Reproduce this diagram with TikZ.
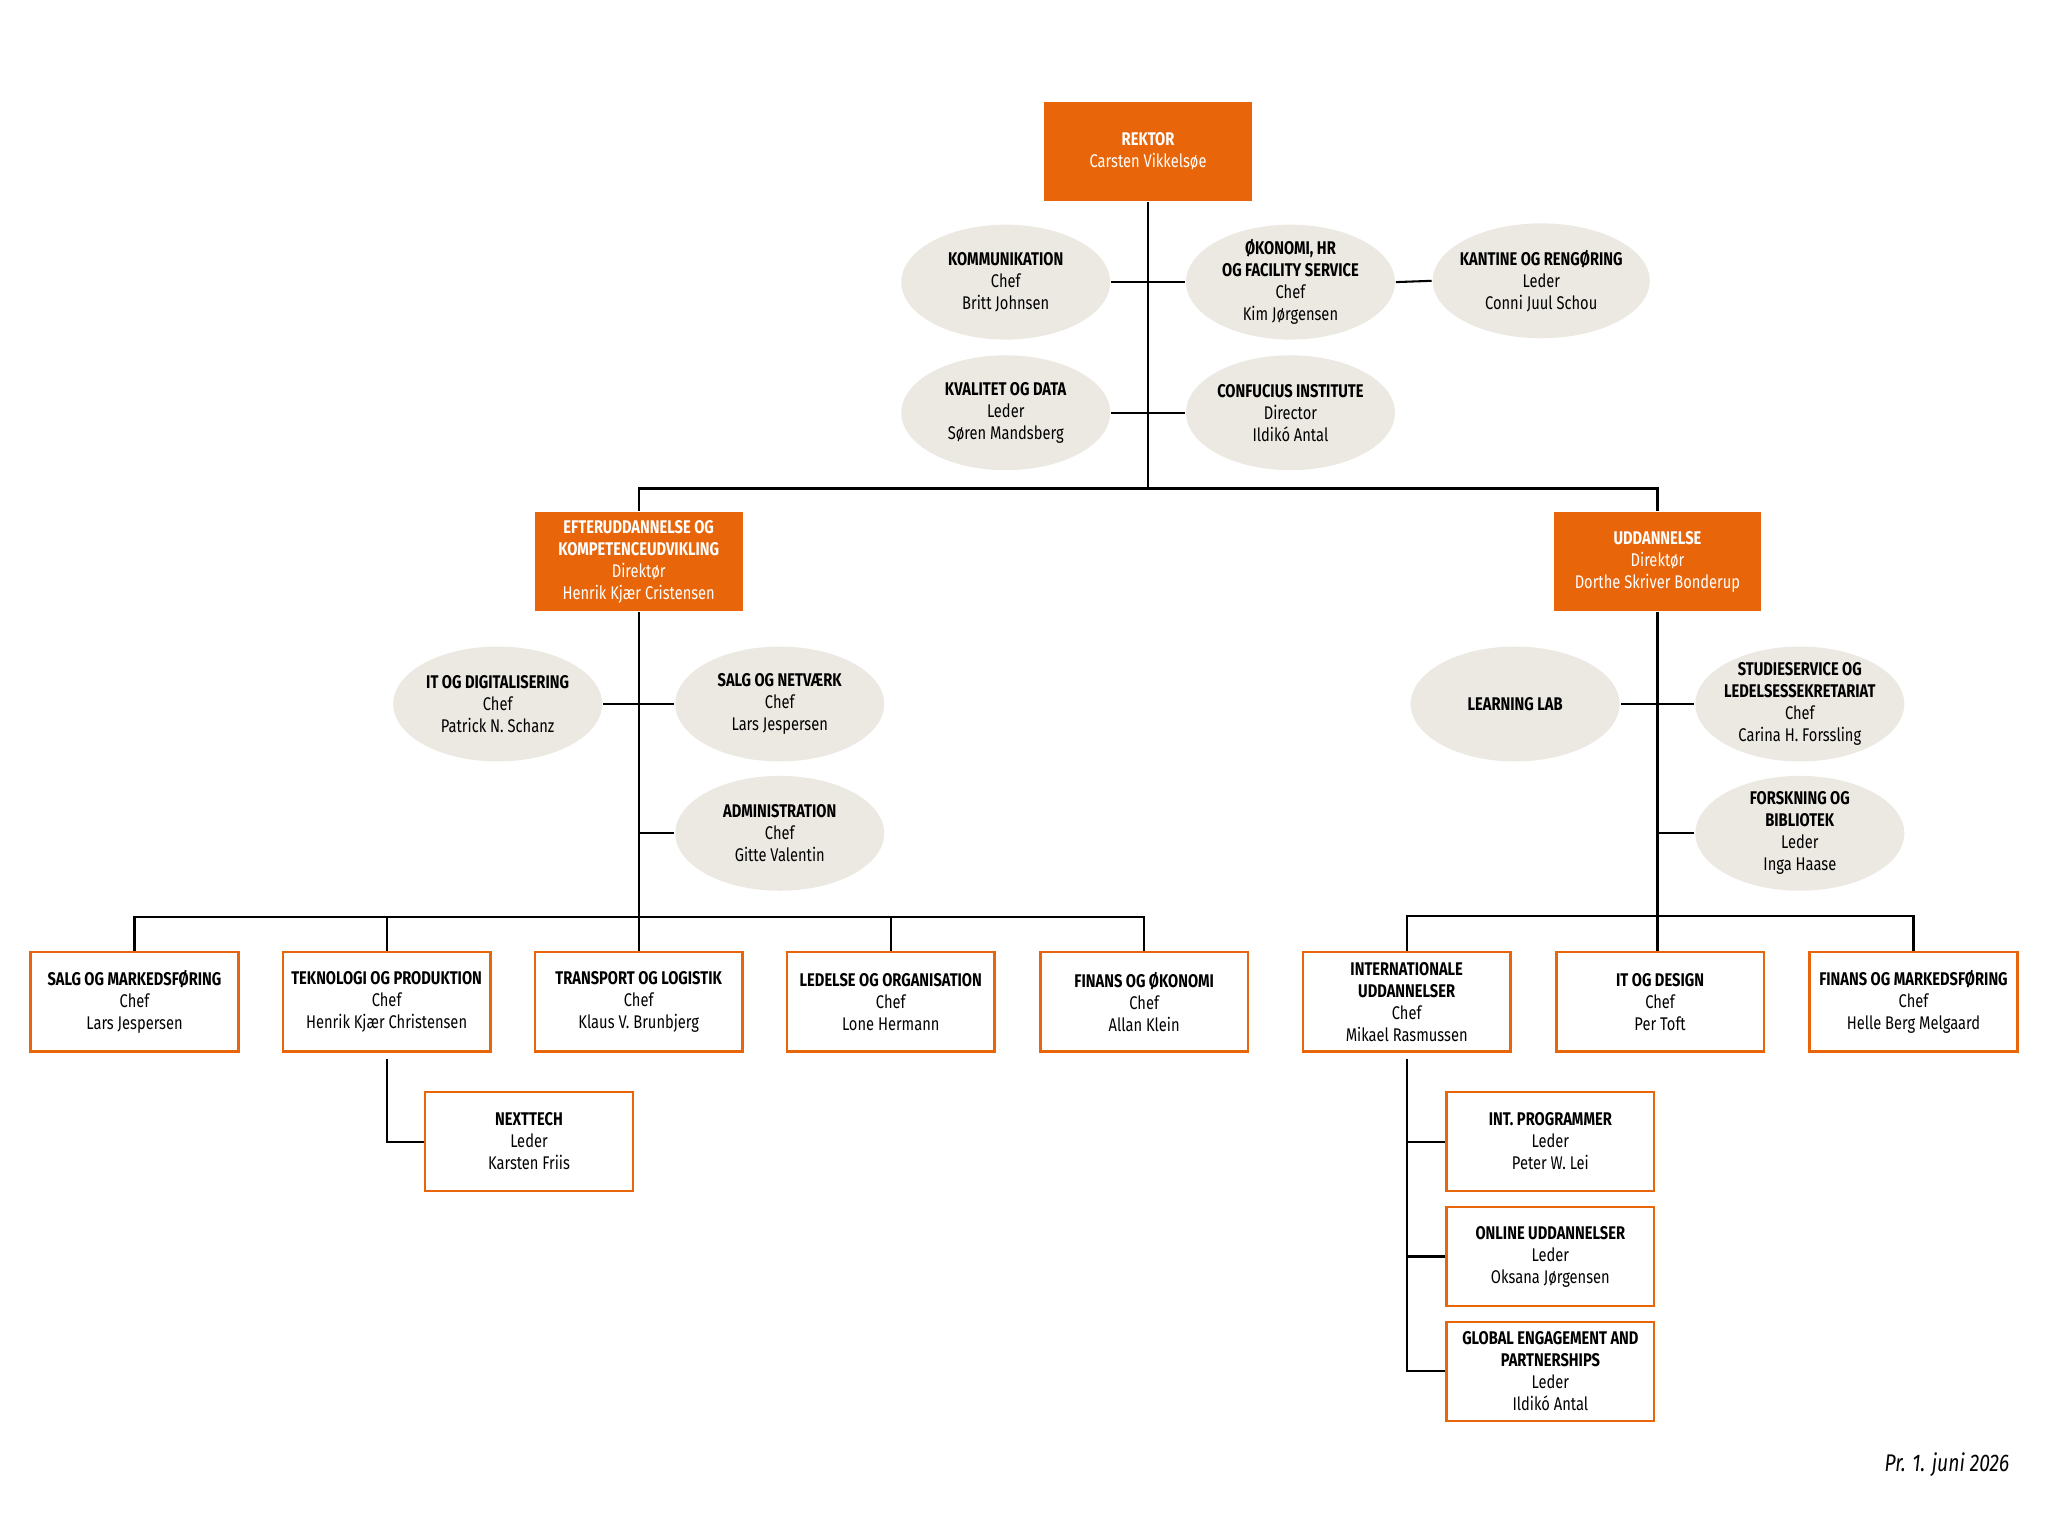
\documentclass[tikz,border=0pt]{standalone}
\usepackage{fontspec}
\setmainfont{Fira Sans}[FakeStretch=0.8]
\usetikzlibrary{positioning, calc, shapes.geometric}
\definecolor{orng}{HTML}{E8650A}
\definecolor{sand}{HTML}{ECE9E2}

\begin{document}
\begin{tikzpicture}[x=0.02cm, y=-0.02cm, line width=0.9pt,
        head/.style={rectangle, fill=orng, text=white, minimum width=3.18cm, minimum height=1.52cm, align=center, font=\fontsize{8}{9.6}\selectfont},
        unit/.style={rectangle, draw=orng, line width=1.1pt, fill=white, minimum width=3.18cm, minimum height=1.52cm, align=center, font=\fontsize{8}{9.6}\selectfont},
        staff/.style={ellipse, fill=sand, minimum width=3.2cm, minimum height=1.76cm, inner sep=-2pt, align=center, font=\fontsize{8}{9.6}\selectfont}]

                        \useasboundingbox (0,0) rectangle (1568,1165);

                        % Top level
                        \node (rek) [head] at (879,116) {\textbf{REKTOR}\\Carsten Vikkelsøe};
                        \node (kom) [staff] at (770,216) {\textbf{KOMMUNIKATION}\\Chef\\Britt Johnsen};
                        \node (oko) [staff] at (988,216) {\textbf{ØKONOMI, HR}\\\textbf{OG FACILITY SERVICE}\\Chef\\Kim Jørgensen};
                        \node (kan) [staff] at (1180,215) {\textbf{KANTINE OG RENGØRING}\\Leder\\Conni Juul Schou};
                        \node (kva) [staff] at (770,316) {\textbf{KVALITET OG DATA}\\Leder\\Søren Mandsberg};
                        \node (con) [staff] at (988,316) {\textbf{CONFUCIUS INSTITUTE}\\Director\\Ildikó Antal};

                        \node (eft) [head] at (489,430) {\textbf{EFTERUDDANNELSE OG}\\\textbf{KOMPETENCEUDVIKLING}\\Direktør\\Henrik Kjær Cristensen};
                        \node (udd) [head] at (1269,430) {\textbf{UDDANNELSE}\\Direktør\\Dorthe Skriver Bonderup};

                        % Edges at the top
                        \coordinate (t1) at (879,374);
                        \draw (rek.south) -- (t1);
                        \draw (kom.east) -- (oko.west);
                        \draw (kva.east) -- (con.west);
                        \draw (oko.east) -- (kan.west);
                        \draw (eft.north) |- (t1) -| (udd.north);

                        % Left branch
                        \node (itd) [staff] at (381,539) {\textbf{IT OG DIGITALISERING}\\Chef\\Patrick N. Schanz};
                        \node (sal) [staff] at (597,539) {\textbf{SALG OG NETVÆRK}\\Chef\\Lars Jespersen};
                        \node (adm) [staff] at (597,638) {\textbf{ADMINISTRATION}\\Chef\\Gitte Valentin};

                        \node (smf) [unit] at (103,767) {\textbf{SALG OG MARKEDSFØRING}\\Chef\\Lars Jespersen};
                        \node (tek) [unit] at (296,767) {\textbf{TEKNOLOGI OG PRODUKTION}\\Chef\\Henrik Kjær Christensen};
                        \node (tra) [unit] at (489,767) {\textbf{TRANSPORT OG LOGISTIK}\\Chef\\Klaus V. Brunbjerg};
                        \node (led) [unit] at (682,767) {\textbf{LEDELSE OG ORGANISATION}\\Chef\\Lone Hermann};
                        \node (fin) [unit] at (876,767) {\textbf{FINANS OG ØKONOMI}\\Chef\\Allan Klein};
                        \node (nxt) [unit] at (405,874) {\textbf{NEXTTECH}\\Leder\\Karsten Friis};

                        \coordinate (l1) at (489,702);
                        \coordinate (l2) at (489,638);
                        \draw (eft.south) -- (tra.north);
                        \draw (itd.east) -- (sal.west);
                        \draw (l2) -- (adm.west);
                        \draw (smf.north) |- (l1) -| (fin.north);
                        \draw (tek.north) -- (tek.north |- l1);
                        \draw (led.north) -- (led.north |- l1);
                        \draw ([yshift=-0.1cm]tek.south) |- (nxt.west);

                        % Right branch
                        \node (lab) [staff] at (1160,539) {\textbf{LEARNING LAB}};
                        \node (stu) [staff] at (1378,539) {\textbf{STUDIESERVICE OG}\\\textbf{LEDELSESSEKRETARIAT}\\Chef\\Carina H. Forssling};
                        \node (for) [staff] at (1378,638) {\textbf{FORSKNING OG}\\\textbf{BIBLIOTEK}\\Leder\\Inga Haase};

                        \node (int) [unit] at (1077,767) {\textbf{INTERNATIONALE}\\\textbf{UDDANNELSER}\\Chef\\Mikael Rasmussen};
                        \node (itg) [unit] at (1271,767) {\textbf{IT OG DESIGN}\\Chef\\Per Toft};
                        \node (fmf) [unit] at (1465,767) {\textbf{FINANS OG MARKEDSFØRING}\\Chef\\Helle Berg Melgaard};
                        \node (ipr) [unit] at (1187,874) {\textbf{INT. PROGRAMMER}\\Leder\\Peter W. Lei};
                        \node (onl) [unit] at (1187,962) {\textbf{ONLINE UDDANNELSER}\\Leder\\Oksana Jørgensen};
                        \node (glo) [unit] at (1187,1050) {\textbf{GLOBAL ENGAGEMENT AND}\\\textbf{PARTNERSHIPS}\\Leder\\Ildikó Antal};

                        \coordinate (r1) at (1269,701);
                        \coordinate (r2) at (1269,638);
                        \coordinate (s1) at (1078,874);
                        \coordinate (s2) at (1078,962);
                        \draw (udd.south) -- (itg.north -| udd.south);
                        \draw (lab.east) -- (stu.west);
                        \draw (r2) -- (for.west);
                        \draw (int.north) |- (r1) -| (fmf.north);
                        \draw ([yshift=-0.1cm]int.south) |- (glo.west);
                        \draw (s1) -- (ipr.west);
                        \draw (s2) -- (onl.west);

                        \node (dat) [anchor=east, font=\fontsize{10.5}{12}\selectfont\itshape] at (1545,1121) {Pr. 1. juni 2026};

\end{tikzpicture}
\end{document}
